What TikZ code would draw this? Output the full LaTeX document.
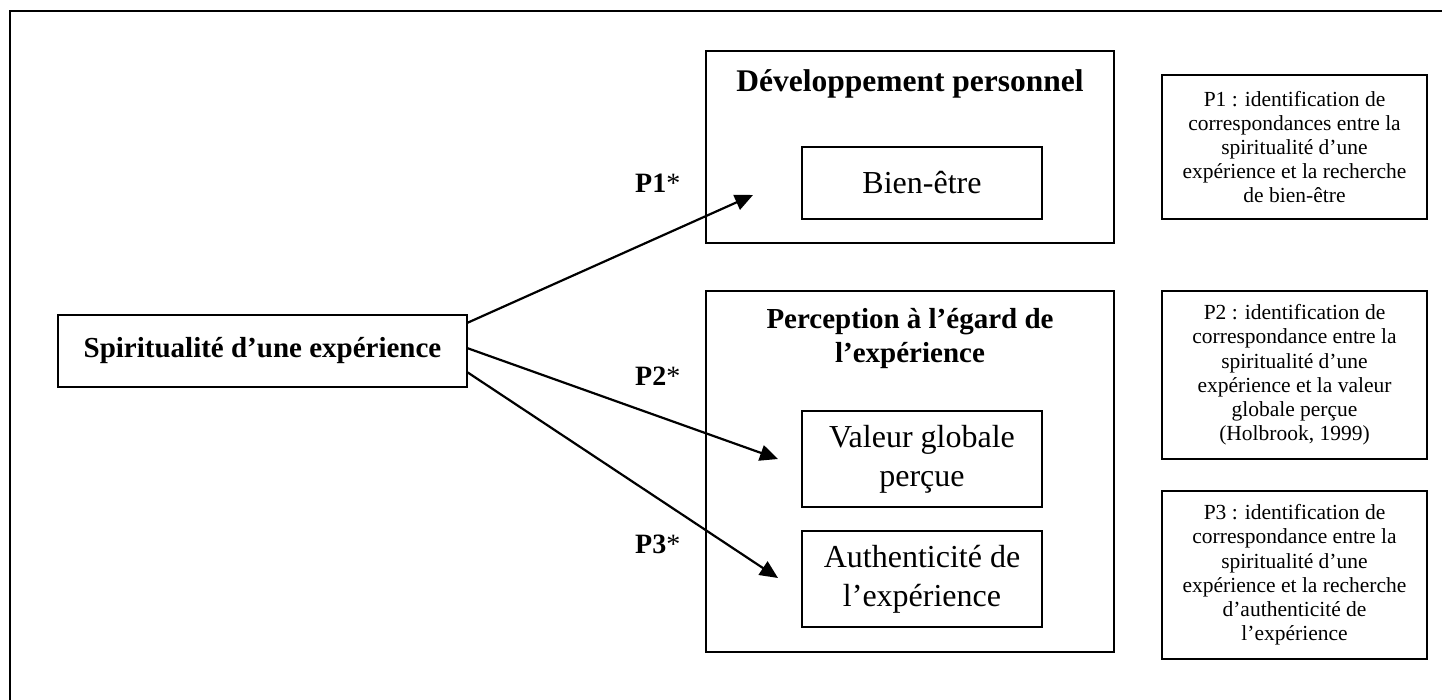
\documentclass[tikz,border=0pt]{standalone}
\usepackage{fontspec}
\setmainfont{Liberation Serif}
\usetikzlibrary{arrows.meta}
\begin{document}
\begin{tikzpicture}[x=1pt,y=-1pt,
  bigbox/.style={draw, line width=2.3pt, inner sep=0pt},
  innerbox/.style={draw, line width=1.8pt, inner sep=0pt, minimum width=240pt, align=center, font=\fontsize{32}{39}\selectfont},
  notebox/.style={draw, line width=1.8pt, inner sep=0pt, minimum width=265pt, align=center, font=\fontsize{21.5}{24.2}\selectfont},
  title/.style={inner sep=0pt, align=center, font=\fontsize{29}{34}\selectfont\bfseries},
  plabel/.style={inner sep=0pt, anchor=base west, font=\fontsize{28}{32}\selectfont},
  arr/.style={line width=2.2pt, -{Triangle[length=18pt,width=16pt]}}]
\useasboundingbox (0,0) rectangle (1442,700);
% outer frame
\draw[line width=2.8pt] (10,712) -- (10,11) -- (1444,11);
% main source
\node[bigbox, minimum width=409pt, minimum height=72pt, font=\fontsize{29}{33}\selectfont\bfseries] (spirit) at (262.5,351) {Spiritualité d’une expérience};
% development box
\node[bigbox, minimum width=408pt, minimum height=192pt] (dev) at (910,147) {};
\node[title, anchor=base, font=\fontsize{31.5}{36}\selectfont\bfseries] (devt) at (910,92) {Développement personnel};
\node[innerbox, minimum height=72pt] (bien) at (922,183) {Bien-être};
% perception box
\node[bigbox, minimum width=408pt, minimum height=361pt] (perc) at (910,471.5) {};
\node[title, anchor=base] (perct) at (910,362) {Perception à l’égard de\\l’expérience};
\node[innerbox, minimum height=96pt] (val) at (922,459) {Valeur globale\\perçue};
\node[innerbox, minimum height=96pt] (auth) at (922,579) {Authenticité de\\l’expérience};
% notes
\node[notebox, minimum height=144pt] (n1) at (1294.5,147) {P1 : identification de\\correspondances entre la\\spiritualité d’une\\expérience et la recherche\\de bien-être};
\node[notebox, minimum height=168pt] (n2) at (1294.5,375) {P2 : identification de\\correspondance entre la\\spiritualité d’une\\expérience et la valeur\\globale perçue\\(Holbrook, 1999)};
\node[notebox, minimum height=168pt] (n3) at (1294.5,575) {P3 : identification de\\correspondance entre la\\spiritualité d’une\\expérience et la recherche\\d’authenticité de\\l’expérience};
% arrows
\coordinate (s1) at (467,323);
\coordinate (s2) at (467,348);
\coordinate (s3) at (467,372);
\coordinate (t1) at (753,195);
\coordinate (t2) at (778,459);
\coordinate (t3) at (778,578);
\draw[arr] (s1) -- (t1);
\draw[arr] (s2) -- (t2);
\draw[arr] (s3) -- (t3);
% labels
\node[plabel] (l1) at (635,193) {\textbf{P1}*};
\node[plabel] (l2) at (635,385) {\textbf{P2}*};
\node[plabel] (l3) at (635,553) {\textbf{P3}*};
\end{tikzpicture}
\end{document}
